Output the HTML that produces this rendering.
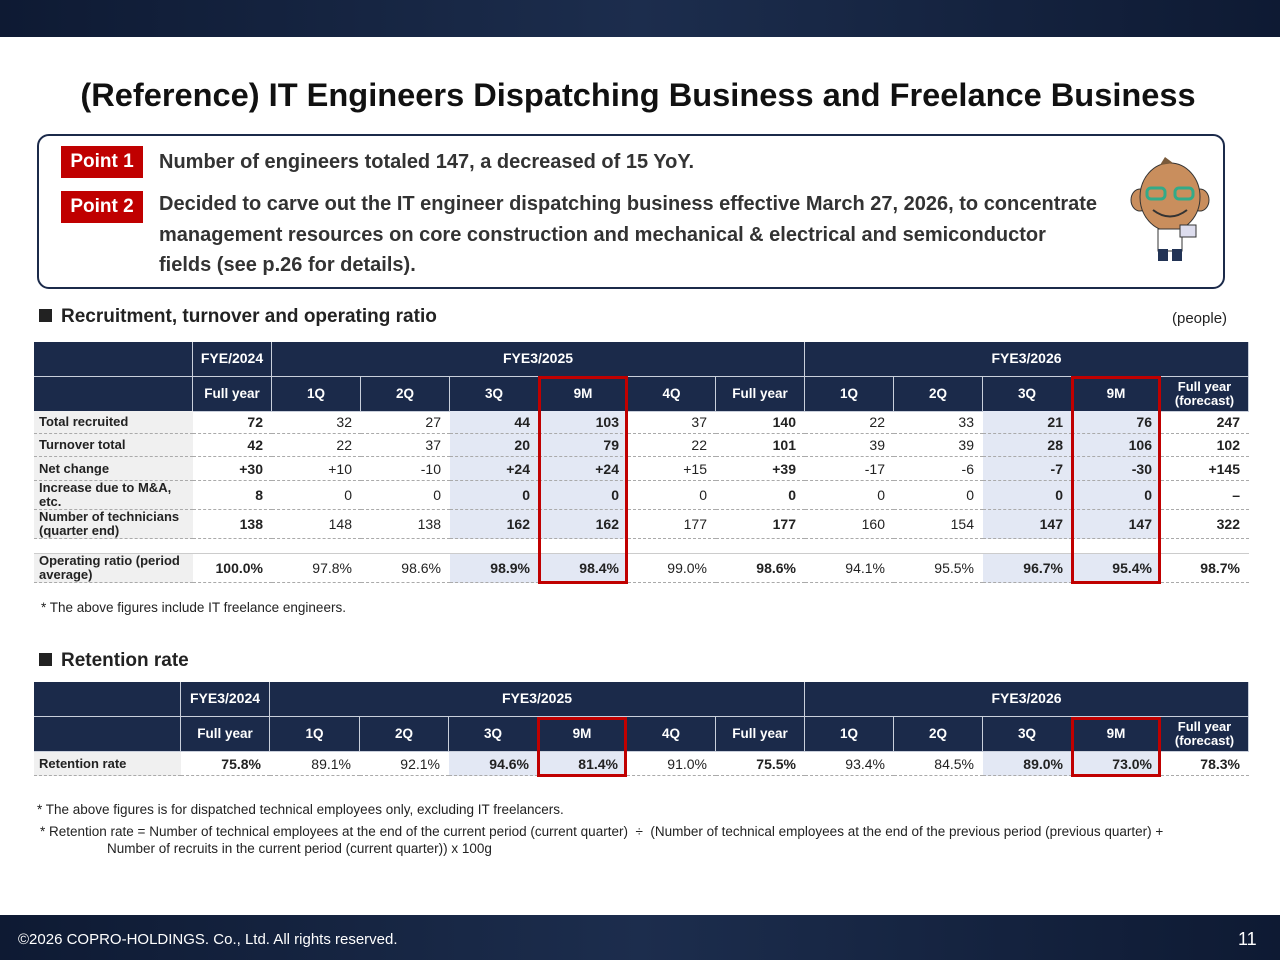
<!DOCTYPE html>
<html><head><meta charset="utf-8"><style>
body{margin:0;width:1280px;height:960px;position:relative;background:#fff;font-family:"Liberation Sans",sans-serif;overflow:hidden;color:#222}
.a{position:absolute;box-sizing:border-box}
.hd{background:#1b2a4a;color:#fff;font-weight:bold;display:flex;align-items:center;justify-content:center;border-right:1px solid #c9cfdb;border-bottom:1px solid #c9cfdb;font-size:14px;text-align:center;line-height:1.1}
.c{display:flex;align-items:center;justify-content:flex-end;padding-right:9px;font-size:14px;border-bottom:1px dashed #aaa}
.lb{display:flex;align-items:center;padding-left:5px;font-size:13px;font-weight:bold;background:#f0f0f0;border-bottom:1px dashed #aaa;line-height:1.05}
.red{border:3px solid #c00000}
.pt{background:#c00000;color:#fff;font-weight:bold;font-size:19px;display:flex;align-items:center;justify-content:center}
.tx{font-weight:bold;font-size:20px;color:#333}
</style></head><body>
<div class="a" style="left:0;top:0;width:1280px;height:37px;background:linear-gradient(90deg,#0e1a33,#1c2d4d 50%,#0e1a33)"></div>
<div class="a" style="left:0;top:76px;width:1276px;text-align:center;font-size:32.6px;font-weight:bold;color:#111">(Reference) IT Engineers Dispatching Business and Freelance Business</div>
<div class="a" style="left:37px;top:134px;width:1188px;height:155px;border:2px solid #1b2a4a;border-radius:12px"></div>
<div class="a pt" style="left:61px;top:146px;width:82px;height:32px">Point 1</div>
<div class="a pt" style="left:61px;top:191px;width:82px;height:32px">Point 2</div>
<div class="a tx" style="left:159px;top:151px">Number of engineers totaled 147, a decreased of 15 YoY.</div>
<div class="a tx" style="left:159px;top:189px;white-space:nowrap;line-height:30.5px">Decided to carve out the IT engineer dispatching business effective March 27, 2026, to concentrate<br>management resources on core construction and mechanical &amp; electrical and semiconductor<br>fields (see p.26 for details).</div>
<svg class="a" style="left:1125px;top:155px" width="90" height="110">
<ellipse cx="15" cy="45" rx="9" ry="11" fill="#c98e5d" stroke="#333"/><ellipse cx="75" cy="45" rx="9" ry="11" fill="#c98e5d" stroke="#333"/>
<ellipse cx="45" cy="42" rx="30" ry="34" fill="#c98e5d" stroke="#333"/>
<path d="M35 10 L40 2 L48 8 Z" fill="#7a5a3a"/>
<rect x="22" y="33" width="18" height="11" rx="4" fill="none" stroke="#3a8" stroke-width="3"/><rect x="50" y="33" width="18" height="11" rx="4" fill="none" stroke="#3a8" stroke-width="3"/>
<path d="M28 55 Q45 68 62 55" fill="none" stroke="#333" stroke-width="2"/>
<rect x="33" y="74" width="24" height="22" fill="#fff" stroke="#333"/><rect x="55" y="70" width="16" height="12" fill="#dde" stroke="#333"/>
<rect x="33" y="94" width="10" height="12" fill="#235"/><rect x="47" y="94" width="10" height="12" fill="#235"/>
</svg>
<div class="a" style="left:39px;top:306px;font-size:19px;font-weight:bold;color:#222"><span style="display:inline-block;width:13px;height:13px;background:#222;margin-right:9px"></span>Recruitment, turnover and operating ratio</div>
<div class="a" style="left:1172px;top:310px;font-size:15px">(people)</div>
<div class="a" style="left:41px;top:600px;font-size:13.5px">* The above figures include IT freelance engineers.</div>
<div class="a" style="left:39px;top:650px;font-size:19px;font-weight:bold;color:#222"><span style="display:inline-block;width:13px;height:13px;background:#222;margin-right:9px"></span>Retention rate</div>
<div class="a" style="left:37px;top:802px;font-size:13.5px">* The above figures is for dispatched technical employees only, excluding IT freelancers.</div>
<div class="a" style="left:40px;top:823px;font-size:13.5px;line-height:17px;white-space:nowrap">* Retention rate = Number of technical employees at the end of the current period (current quarter) &nbsp;÷&nbsp; (Number of technical employees at the end of the previous period (previous quarter) +<br><span style="padding-left:67px">Number of recruits in the current period (current quarter)) x 100g</span></div>
<div class="a" style="left:0;top:915px;width:1280px;height:45px;background:linear-gradient(90deg,#0e1a33,#1c2d4d 50%,#0e1a33)"></div>
<div class="a" style="left:18px;top:931px;color:#fff;font-size:15px">©2026 COPRO-HOLDINGS. Co., Ltd. All rights reserved.</div>
<div class="a" style="left:1238px;top:929px;color:#fff;font-size:18px">11</div>
<script>
const colHeads=["Full year","1Q","2Q","3Q","9M","4Q","Full year","1Q","2Q","3Q","9M","Full year<br>(forecast)"];
const boldCols=[1,0,0,1,1,0,1,0,0,1,1,1];
const rowLabels1=["Total recruited","Turnover total","Net change","Increase due to M&amp;A, etc.","Number of technicians (quarter end)","Operating ratio (period average)"];
const rTotal=["72","32","27","44","103","37","140","22","33","21","76","247"];
const rTurn=["42","22","37","20","79","22","101","39","39","28","106","102"];
const rNet=["+30","+10","-10","+24","+24","+15","+39","-17","-6","-7","-30","+145"];
const rMA=["8","0","0","0","0","0","0","0","0","0","0","–"];
const rTech=["138","148","138","162","162","177","177","160","154","147","147","322"];
const rOp=["100.0%","97.8%","98.6%","98.9%","98.4%","99.0%","98.6%","94.1%","95.5%","96.7%","95.4%","98.7%"];
const rRet=["75.8%","89.1%","92.1%","94.6%","81.4%","91.0%","75.5%","93.4%","84.5%","89.0%","73.0%","78.3%"];
const rows1=[rTotal,rTurn,rNet,rMA,rTech,rOp];
function mk(cls,x,y,w,h,html){const d=document.createElement('div');d.className='a '+cls;d.style.cssText=`left:${x}px;top:${y}px;width:${w}px;height:${h}px`;d.innerHTML=html;document.body.appendChild(d);return d;}
function table(edges,top,ys,labels,rows,yearTop,prefix){
  const L=34;
  let e=mk('hd',L,top,edges[0]-L,35,'');
  e=mk('hd',L,top+35,edges[0]-L,35,'');
  e=mk('hd',edges[0],top,edges[1]-edges[0],35,yearTop);
  e=mk('hd',edges[1],top,edges[7]-edges[1],35,'FYE3/2025');
  e=mk('hd',edges[7],top,edges[12]-edges[7],35,'FYE3/2026');
  for(let i=0;i<12;i++){e=mk('hd',edges[i],top+35,edges[i+1]-edges[i],35,colHeads[i]);e.style.fontSize=i==11?'13px':'13.5px';}
  rows.forEach((r,ri)=>{const [y,h]=ys[ri];
    e=mk('lb',L,y,edges[0]-L,h,labels[ri]);
    r.forEach((v,i)=>{e=mk('c',edges[i],y,edges[i+1]-edges[i],h,v);
      if(boldCols[i])e.style.fontWeight='bold';
      if(i==3||i==4||i==9||i==10)e.style.background='#e3e8f4';
      });
  });
}
const E1=[193,272,361,450,539,628,716,805,894,983,1072,1161,1249];
table(E1,342,[[411,23],[434,23],[457,24],[481,29],[510,29],[554,29]],rowLabels1,rows1,'FYE/2024','recruit');
let g=mk('',34,539,1215,15,'');g.style.background='#fff';g.style.borderBottom='1px solid #ccc';


let b=mk('red',538,376,90,208,'');


b=mk('red',1071,376,90,208,'');


const E2=[181,270,360,449,538,627,716,805,894,983,1072,1161,1249];
table(E2,682,[[752,24]],["Retention rate"],[rRet],'FYE3/2024','retention');
b=mk('red',537,717,90,60,'');


b=mk('red',1071,717,90,60,'');


</script>
</body></html>
